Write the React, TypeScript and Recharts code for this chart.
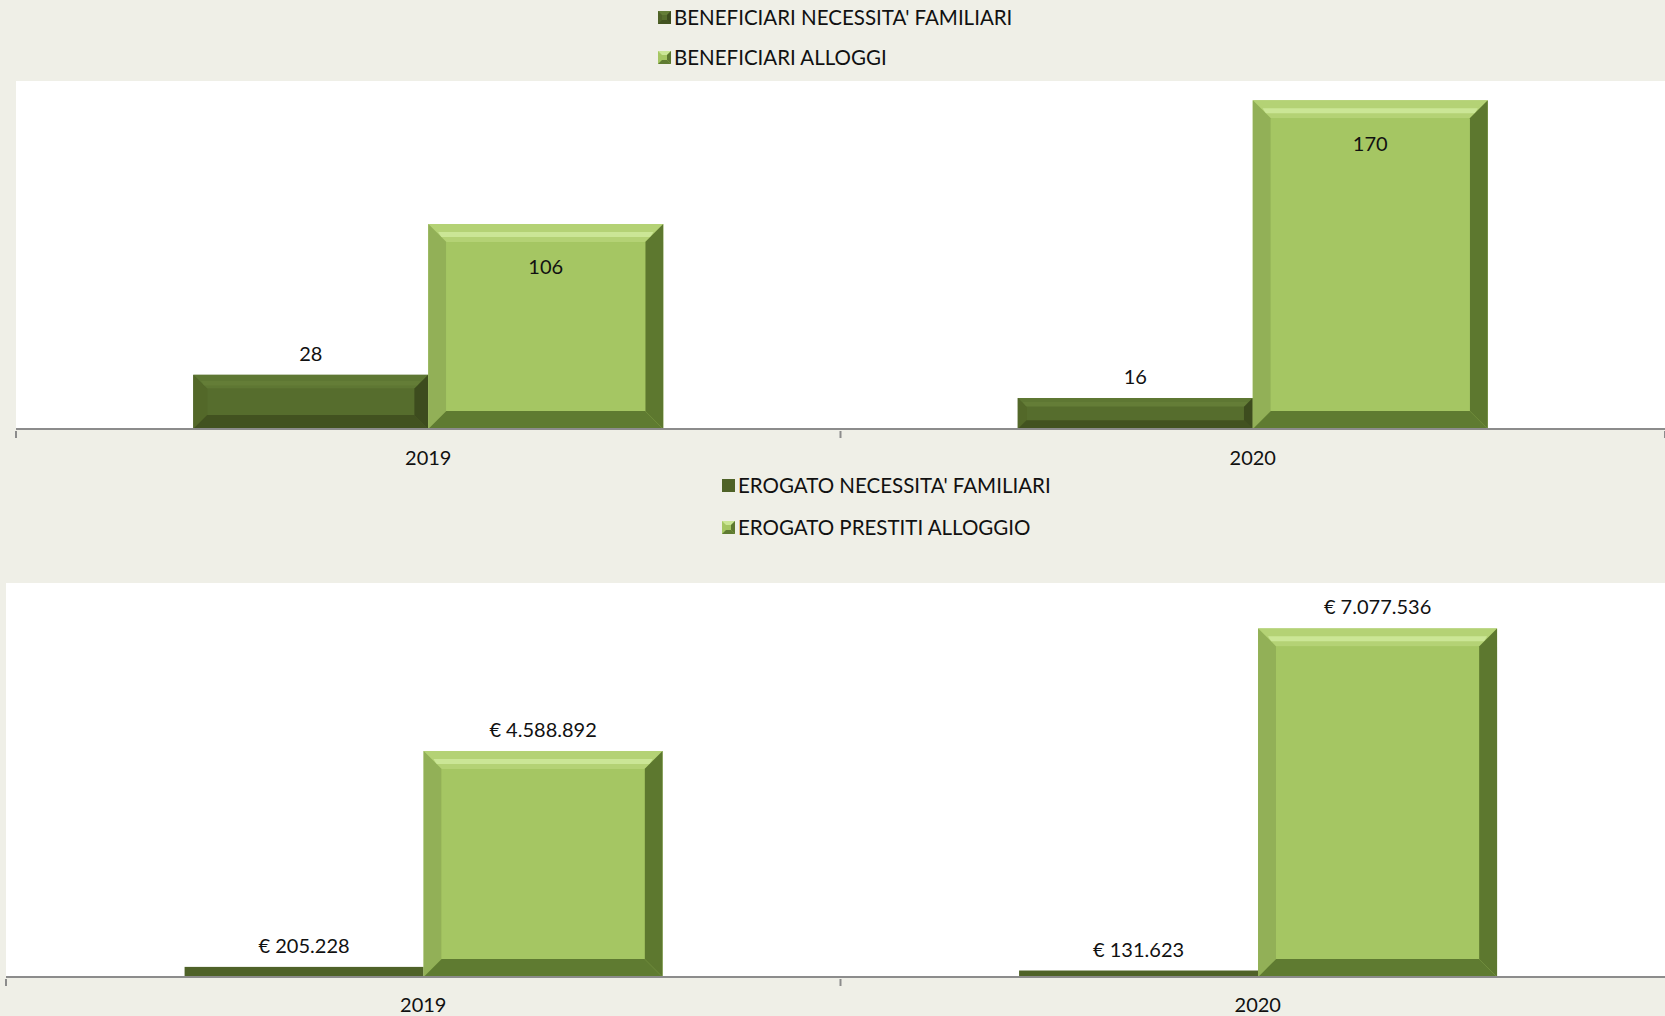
import React from "react";
import { BarChart, Bar, XAxis, YAxis, Legend, LabelList, CartesianGrid } from "recharts";

const years = ["2019", "2020"];
const beneficiariNecessita = [28, 16];
const beneficiariAlloggi = [106, 170];
const erogatoNecessita = [205228, 131623];
const erogatoAlloggio = [4588892, 7077536];

const topLegend = ["BENEFICIARI NECESSITA' FAMILIARI", "BENEFICIARI ALLOGGI"];
const bottomLegend = ["EROGATO NECESSITA' FAMILIARI", "EROGATO PRESTITI ALLOGGIO"];

const topData = years.map((y, i) => ({ year: y, nec: beneficiariNecessita[i], all: beneficiariAlloggi[i] }));
const bottomData = years.map((y, i) => ({ year: y, nec: erogatoNecessita[i], all: erogatoAlloggio[i] }));

const FONT = "Lato, 'Open Sans', sans-serif";
const BG = "#efefe7";

const DARK = { id: "d", base: "#4f6228", inner: "#566d2d", top: "#5e7733", hi: "#647d37", left: "#536829", right: "#3d4c1e", bottom: "#425220" };
const LIGHT = { id: "l", base: "#a5c663", inner: "#a5c663", top: "#b4d275", hi: "#cbe696", left: "#92b057", right: "#5d782f", bottom: "#5f7b31" };

const euro = (v: number) => "€ " + String(v).replace(/\B(?=(\d{3})+(?!\d))/g, ".");

function bevelShape(pal: typeof DARK, maxB: number) {
  return (props: any) => {
    const { x, y, width: w, height: h } = props;
    if (!h || h <= 0) return null;
    const b = h < 14 ? 0 : Math.min(maxB, h / 3.5);
    if (b === 0) {
      return <rect x={x} y={y} width={w} height={h} fill={pal.base} />;
    }
    const m = b * 0.55;
    return (
      <g>
        <rect x={x} y={y} width={w} height={h} fill={pal.base} />
        <polygon points={`${x},${y} ${x + w},${y} ${x + w - b},${y + b} ${x + b},${y + b}`} fill={pal.top} />
        <polygon
          points={`${x + m},${y + m * 0.8} ${x + w - m},${y + m * 0.8} ${x + w - m - 3},${y + m + 3} ${x + m + 3},${y + m + 3}`}
          fill={pal.hi}
        />
        <polygon points={`${x},${y} ${x + b},${y + b} ${x + b},${y + h - b} ${x},${y + h}`} fill={pal.left} />
        <polygon points={`${x + w},${y} ${x + w},${y + h} ${x + w - b},${y + h - b} ${x + w - b},${y + b}`} fill={pal.right} />
        <polygon points={`${x},${y + h} ${x + b},${y + h - b} ${x + w - b},${y + h - b} ${x + w},${y + h}`} fill={pal.bottom} />
        <rect x={x + b} y={y + b} width={w - 2 * b} height={h - 2 * b} fill={pal.inner} />
      </g>
    );
  };
}

function LegendIcon({ pal, flat }: { pal: typeof DARK; flat?: boolean }) {
  if (flat) {
    return (
      <svg width={13} height={13} style={{ marginRight: 3 }}>
        <rect x={0} y={0} width={13} height={13} fill={pal.base} />
      </svg>
    );
  }
  return (
    <svg width={13} height={13} style={{ marginRight: 3 }}>
      <rect x={0} y={0} width={13} height={13} fill={pal.base} />
      <polygon points="0,0 13,0 9,4 4,4" fill={pal.hi} />
      <polygon points="0,13 4,9 9,9 13,13" fill={pal.bottom} />
      <polygon points="13,0 13,13 9,9 9,4" fill={pal.right} />
      <rect x={4} y={4} width={5} height={5} fill={pal.inner} />
    </svg>
  );
}

function makeLegend(labels: string[], left: number, rowsY: number[], height: number, flatFirst: boolean) {
  const pals = [DARK, LIGHT];
  return () => (
    <div style={{ position: "relative", height, width: 1665 }}>
      {labels.map((l, i) => (
        <div
          key={l}
          style={{
            position: "absolute",
            left,
            top: rowsY[i] - 13,
            height: 26,
            display: "flex",
            alignItems: "center",
            fontFamily: FONT,
            fontSize: 20.5,
            color: "#111",
            whiteSpace: "nowrap",
          }}
        >
          <LegendIcon pal={pals[i]} flat={flatFirst && i === 0} />
          {l}
        </div>
      ))}
    </div>
  );
}

function makeTick(band: number, count: number, labelDy: number) {
  return (props: any) => {
    const { x, y, payload, index } = props;
    return (
      <g>
        <line x1={x - band / 2} x2={x - band / 2} y1={y} y2={y + 7} stroke="#8c8c8c" strokeWidth={2} />
        {index === count - 1 && (
          <line x1={x + band / 2} x2={x + band / 2} y1={y} y2={y + 7} stroke="#8c8c8c" strokeWidth={2} />
        )}
        <text x={x} y={y + labelDy} textAnchor="middle" dominantBaseline="central" fontFamily={FONT} fontSize={20} fill="#111">
          {payload.value}
        </text>
      </g>
    );
  };
}

const labelStyle = { fontFamily: FONT, fontSize: 20, fill: "#111" };

export default function App() {
  return (
    <div style={{ position: "absolute", left: 0, top: 0, width: 1665, height: 1016, background: BG, overflow: "hidden" }}>
      <div style={{ position: "absolute", left: 0, top: 0 }}>
        <BarChart
          width={1665}
          height={470}
          data={topData}
          margin={{ top: 0, right: 0, bottom: 0, left: 16 }}
          barGap={0}
          barCategoryGap="21.5%"
        >
          <CartesianGrid horizontal={false} vertical={false} fill="#ffffff" fillOpacity={1} stroke="none" />
          <Legend verticalAlign="top" wrapperStyle={{ left: 0, top: 0 }} content={makeLegend(topLegend, 658, [17, 57], 81, false)} />
          <YAxis hide domain={[0, 180]} />
          <XAxis
            dataKey="year"
            height={41}
            tickSize={0}
            tickLine={false}
            axisLine={{ stroke: "#8c8c8c", strokeWidth: 2 }}
            tick={makeTick(1649 / 2, 2, 26)}
            interval={0}
          />
          <Bar dataKey="nec" isAnimationActive={false} shape={bevelShape(DARK, 14)}>
            <LabelList dataKey="nec" position="top" offset={14} style={labelStyle} />
          </Bar>
          <Bar dataKey="all" isAnimationActive={false} shape={bevelShape(LIGHT, 18)}>
            <LabelList dataKey="all" position="insideTop" offset={36} style={labelStyle} />
          </Bar>
        </BarChart>
      </div>
      <div style={{ position: "absolute", left: 0, top: 470 }}>
        <BarChart
          width={1675}
          height={546}
          data={bottomData}
          margin={{ top: 0, right: 0, bottom: 0, left: 6 }}
          barGap={0}
          barCategoryGap="21.4%"
        >
          <CartesianGrid horizontal={false} vertical={false} fill="#ffffff" fillOpacity={1} stroke="none" />
          <Legend verticalAlign="top" wrapperStyle={{ left: 0, top: 0 }} content={makeLegend(bottomLegend, 722, [15, 57], 113, true)} />
          <YAxis hide domain={[0, 8000000]} />
          <XAxis
            dataKey="year"
            height={39}
            tickSize={0}
            tickLine={false}
            axisLine={{ stroke: "#8c8c8c", strokeWidth: 2 }}
            tick={makeTick(1669 / 2, 2, 25)}
            interval={0}
          />
          <Bar dataKey="nec" isAnimationActive={false} shape={bevelShape(DARK, 14)}>
            <LabelList dataKey="nec" position="top" offset={14} formatter={(v: any) => euro(Number(v))} style={labelStyle} />
          </Bar>
          <Bar dataKey="all" isAnimationActive={false} shape={bevelShape(LIGHT, 18)}>
            <LabelList dataKey="all" position="top" offset={14} formatter={(v: any) => euro(Number(v))} style={labelStyle} />
          </Bar>
        </BarChart>
      </div>
    </div>
  );
}
